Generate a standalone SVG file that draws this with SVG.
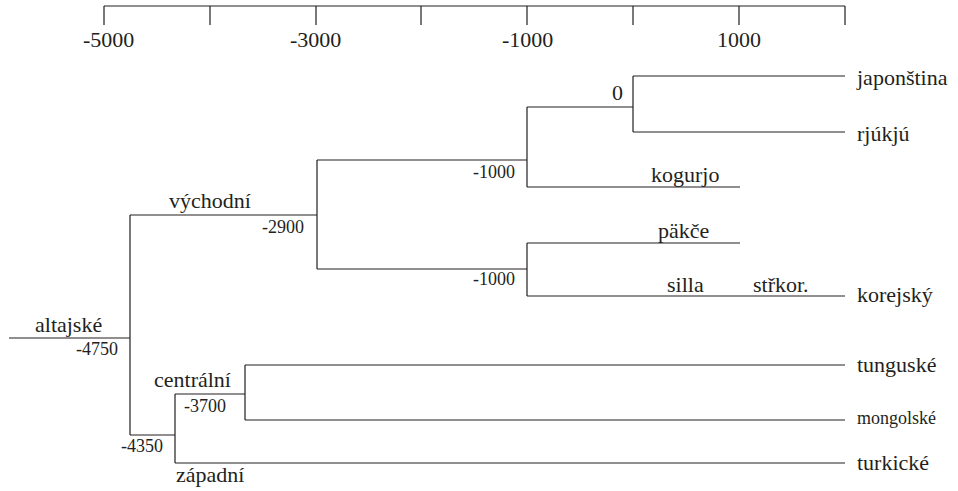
<svg xmlns="http://www.w3.org/2000/svg" width="958" height="491" viewBox="0 0 958 491">
<style>
  .ln { stroke: #231f20; stroke-width: 1.2; fill: none; }
  .t { font-family: 'Liberation Serif', 'Times New Roman', Times, 'DejaVu Serif', serif; fill: #231f20; }
  .big { font-size: 22px; }
  .sm { font-size: 18px; }
</style>
<rect width="958" height="491" fill="#ffffff"/>
<g id="axis" class="t" font-family="Liberation Serif, serif">
  <path class="ln" d="M104 6H845M104 6V25M210 6V25M316 6V25M421 6V25M527 6V25M633 6V25M739 6V25M845 6V25"/>
  <text class="big" x="83" y="47">-5000</text>
  <text class="big" x="290" y="47">-3000</text>
  <text class="big" x="502" y="47">-1000</text>
  <text class="big" x="717" y="47">1000</text>
</g>
<g id="connectors">
  <path class="ln" d="M9 338H130M130 215V435M130 215H317M130 435H175M175 394V463M175 394H245M175 463H845M245 365V420M245 365H845M245 420H845M317 160V269M317 160H527M317 269H527M527 107V187M527 107H633M527 187H740M633 76V132M633 76H845M633 132H845M527 243V296M527 243H740M527 296H845"/>
</g>
<g class="t" font-family="Liberation Serif, serif">
<g id="altajske"><text class="big" x="35" y="332">altajské</text><text class="sm" x="76" y="355">-4750</text></g>
<g id="vychodni"><text class="big" x="169" y="208">východní</text><text class="sm" x="262" y="233">-2900</text></g>
<g id="node-1000a"><text class="sm" x="473" y="178">-1000</text></g>
<g id="node-0"><text class="big" x="612" y="100">0</text></g>
<g id="japonstina"><text class="big" x="857" y="85">japonština</text></g>
<g id="rjukju"><text class="big" x="857" y="141">rjúkjú</text></g>
<g id="kogurjo"><text class="big" x="651" y="182">kogurjo</text></g>
<g id="pakce"><text class="big" x="658" y="238">päkče</text></g>
<g id="node-1000b"><text class="sm" x="473" y="285">-1000</text></g>
<g id="silla"><text class="big" x="667" y="292">silla</text></g>
<g id="strkor"><text class="big" x="753" y="292">střkor.</text></g>
<g id="korejsky"><text class="big" x="857" y="302">korejský</text></g>
<g id="centralni"><text class="big" x="154" y="387">centrální</text><text class="sm" x="184" y="412">-3700</text></g>
<g id="zapadni"><text class="sm" x="121" y="452">-4350</text><text class="big" x="176" y="482">západní</text></g>
<g id="tunguske"><text class="big" x="857" y="372">tunguské</text></g>
<g id="mongolske"><text class="sm" x="857" y="424">mongolské</text></g>
<g id="turkicke"><text class="big" x="857" y="470">turkické</text></g>
</g>
</svg>
